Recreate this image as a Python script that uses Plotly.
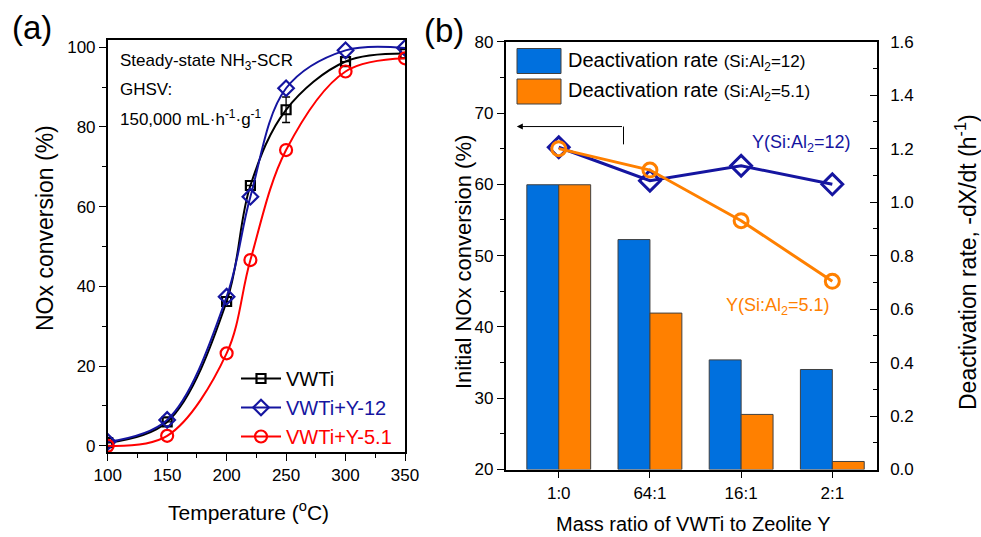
import plotly.graph_objects as go

# ---- Panel (a): light-off curves ----
temps = [100, 150, 200, 220, 250, 300, 350]
conv_vwti = [0.8, 6.0, 36.2, 65.3, 84.3, 96.4, 98.4]
err_vwti = [0, 0, 0, 0, 3.2, 0, 0]
conv_y12 = [1.0, 6.5, 37.4, 62.5, 89.7, 99.2, 99.8]
conv_y51 = [0.0, 2.5, 23.2, 46.6, 74.2, 93.9, 97.2]

# ---- Panel (b): initial conversion and deactivation rate ----
ratios = ["1:0", "64:1", "16:1", "2:1"]
init_y12 = [65.2, 60.5, 62.6, 60.0]
init_y51 = [65.0, 62.0, 54.9, 46.4]
rate_y12 = [1.065, 0.86, 0.41, 0.374]
rate_y51 = [1.065, 0.585, 0.206, 0.03]

FONT = "Liberation Sans, Arial, sans-serif"
BLACK = "#000000"
NAVY = "#1515A0"
RED = "#FF0000"
BAR_BLUE = "#0070DE"
ORANGE = "#FF8000"
W, H = 981, 537


def px(x):
    return x / W


def py(y):
    return 1 - y / H


fig = go.Figure()

# light-off curves
for name, vals, color, sym, err in [
    ("VWTi", conv_vwti, BLACK, "square-open", err_vwti),
    ("VWTi+Y-12", conv_y12, NAVY, "diamond-open", None),
    ("VWTi+Y-5.1", conv_y51, RED, "circle-open", None),
]:
    fig.add_trace(go.Scatter(
        x=temps, y=vals, mode="lines+markers",
        name=f"<span style='color:{color}'>{name}</span>",
        line=dict(color=color, width=2, shape="spline", smoothing=1.0),
        marker=dict(symbol=sym, size=12 if sym != "square-open" else 9,
                    color=color, line=dict(color=color, width=2.2)),
        error_y=dict(type="data", array=err, visible=True, color=color,
                     thickness=1.3, width=4) if err else None,
        xaxis="x", yaxis="y",
    ))

# deactivation-rate bars (right axis)
fig.add_trace(go.Bar(
    x=list(range(len(ratios))), y=rate_y12, marker=dict(color=BAR_BLUE, line=dict(color="#404040", width=1)),
    xaxis="x2", yaxis="y2", showlegend=False, name="Si:Al2=12",
))
fig.add_trace(go.Bar(
    x=list(range(len(ratios))), y=rate_y51, marker=dict(color=ORANGE, line=dict(color="#404040", width=1)),
    xaxis="x2", yaxis="y2", showlegend=False, name="Si:Al2=5.1",
))

# initial conversion lines (left axis)
fig.add_trace(go.Scatter(
    x=list(range(len(ratios))), y=init_y12, mode="lines+markers",
    line=dict(color=NAVY, width=3),
    marker=dict(symbol="diamond-open", size=16, color=NAVY, line=dict(color=NAVY, width=3)),
    xaxis="x2", yaxis="y3", showlegend=False,
))
fig.add_trace(go.Scatter(
    x=list(range(len(ratios))), y=init_y51, mode="lines+markers",
    line=dict(color=ORANGE, width=3),
    marker=dict(symbol="circle-open", size=14, color=ORANGE, line=dict(color=ORANGE, width=3)),
    xaxis="x2", yaxis="y3", showlegend=False,
))

axis_common = dict(showline=True, linecolor="black", linewidth=1.5, showgrid=False,
                   zeroline=False, ticks="outside", tickcolor="black", tickwidth=1.3,
                   ticklen=7, automargin=False,
                   tickfont=dict(family=FONT, size=17, color="black"))

fig.update_layout(
    width=W, height=H,
    margin=dict(l=0, r=0, t=0, b=0),
    paper_bgcolor="white", plot_bgcolor="white",
    barmode="group", bargap=0.3, bargroupgap=0,
    font=dict(family=FONT, color="black"),
    xaxis=dict(domain=[px(107.7), px(405)], range=[100, 350], anchor="y",
               tickvals=[100, 150, 200, 250, 300, 350], mirror=True,
               minor=dict(dtick=25, ticks="outside", ticklen=4, tickcolor="black"),
               **axis_common),
    yaxis=dict(domain=[py(452), py(40)], range=[-1.55, 101.8], anchor="x",
               tickvals=[0, 20, 40, 60, 80, 100], mirror=True,
               minor=dict(dtick=10, ticks="outside", ticklen=4, tickcolor="black"),
               **axis_common),
    xaxis2=dict(domain=[px(505.5), px(877)], range=[-0.584, 3.49], anchor="y2",
                tickvals=list(range(len(ratios))), ticktext=ratios, mirror=True,
                **axis_common),
    yaxis2=dict(domain=[py(469.5), py(41.7)], range=[0, 1.6], anchor="x2", side="right",
                tickvals=[0, 0.2, 0.4, 0.6, 0.8, 1.0, 1.2, 1.4, 1.6], tickformat=".1f",
                ticklabelstandoff=8,
                minor=dict(dtick=0.1, ticks="inside", ticklen=4, tickcolor="black"),
                **{**axis_common, "ticks": "inside"}),
    yaxis3=dict(range=[20, 80], anchor="x2", side="left", overlaying="y2",
                tickvals=[20, 30, 40, 50, 60, 70, 80],
                minor=dict(dtick=5, ticks="outside", ticklen=4, tickcolor="black"),
                **axis_common),
    legend=dict(x=px(236), y=py(359), xanchor="left", yanchor="top",
                bgcolor="rgba(0,0,0,0)", font=dict(family=FONT, size=20),
                itemwidth=40, tracegroupgap=0),
    showlegend=True,
)

ann = []


def text(x, y, s, size, color="black", xanchor="center", angle=0):
    ann.append(dict(x=px(x), y=py(y), xref="paper", yref="paper", text=s, showarrow=False,
                    xanchor=xanchor, yanchor="middle", textangle=angle,
                    font=dict(family=FONT, size=size, color=color)))


# panel labels
text(32, 28, "(a)", 33)
text(444, 30, "(b)", 33)

# axis titles
text(248, 511, "Temperature (<sup>o</sup>C)", 21)
text(45, 228, "NOx conversion (%)", 23, angle=-90)
text(693, 524, "Mass ratio of VWTi to Zeolite Y", 20)
text(463, 262, "Initial NOx conversion (%)", 22, angle=-90)
text(966, 262, "Deactivation rate, -dX/dt (h<sup>-1</sup>)", 23, angle=-90)

# reaction conditions
text(118, 62, "Steady-state NH<sub>3</sub>-SCR", 17, xanchor="left")
text(118, 90, "GHSV:", 17, xanchor="left")
text(118, 118, "150,000 mL·h<sup>-1</sup>·g<sup>-1</sup>", 17, xanchor="left")

# series labels in (b)
text(853, 143, "Y(Si:Al<sub>2</sub>=12)", 18, color=NAVY, xanchor="right")
text(832, 306, "Y(Si:Al<sub>2</sub>=5.1)", 18, color=ORANGE, xanchor="right")

# bar legend in (b)
shapes = []
for yc, color, label in [(61, BAR_BLUE, "12"), (91.5, ORANGE, "5.1")]:
    shapes.append(dict(type="rect", xref="paper", yref="paper",
                       x0=px(517), x1=px(561), y0=py(yc + 12.5), y1=py(yc - 12.5),
                       fillcolor=color, line=dict(color="#404040", width=1)))
    text(566, yc, f"Deactivation rate <span style='font-size:17px'>(Si:Al<sub>2</sub>={label})</span>",
         20, xanchor="left")

# arrow pointing to the left axis
shapes.append(dict(type="line", xref="x2", yref="y3", x0=0.71, x1=0.71, y0=65.6, y1=68.1,
                   line=dict(color="black", width=1)))
ann.append(dict(x=-0.46, y=68.1, ax=0.71, ay=68.1, xref="x2", yref="y3", axref="x2", ayref="y3",
                showarrow=True, arrowhead=2, arrowsize=1.2, arrowwidth=1, arrowcolor="black", text=""))

fig.update_layout(annotations=ann, shapes=shapes)

fig.write_html("out.html")
